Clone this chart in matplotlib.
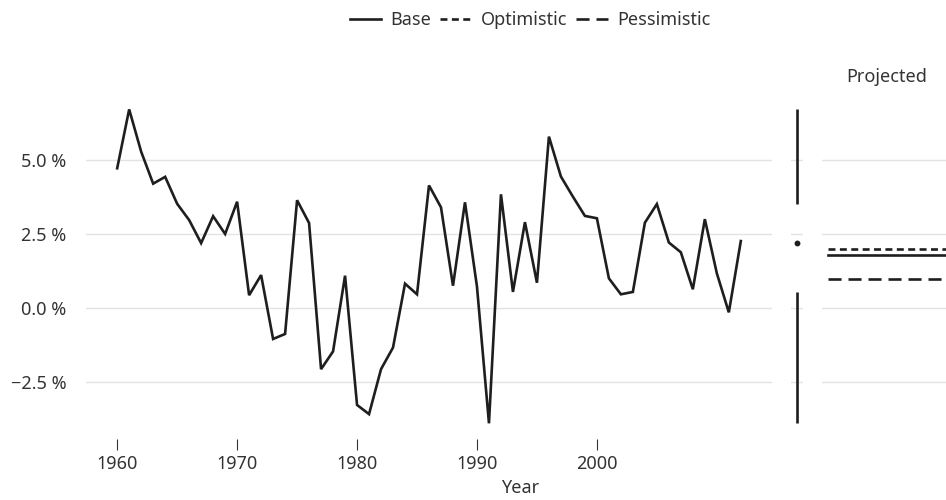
import numpy as np
import matplotlib
matplotlib.use("Agg")
import matplotlib.pyplot as plt
from matplotlib.ticker import FuncFormatter

# Annual growth rate, %
years = list(range(1960, 2013))
growth = [4.73, 6.72, 5.29, 4.21, 4.44, 3.53, 2.98, 2.20, 3.11, 2.51,
          3.60, 0.44, 1.12, -1.04, -0.87, 3.65, 2.88, -2.06, -1.46, 1.10,
          -3.27, -3.58, -2.06, -1.33, 0.83, 0.47, 4.15, 3.41, 0.76, 3.58,
          0.73, -3.89, 3.85, 0.55, 2.91, 0.86, 5.80, 4.45, 3.77, 3.12,
          3.04, 1.01, 0.47, 0.55, 2.89, 3.52, 2.22, 1.89, 0.64, 3.01,
          1.18, -0.14, 2.27]

# Projection scenarios
proj_years = [2013, 2020]
scenario_names = ["Base", "Optimistic", "Pessimistic"]
scenario_values = [1.8, 2.0, 1.0]

y_ticks = [-2.5, 0.0, 2.5, 5.0]
x_ticks = [1960, 1970, 1980, 1990, 2000]

INK = "#1e1e1e"
TEXT = "#333333"
GRID = "#e3e3e3"

plt.rcParams["font.family"] = ["Noto Sans", "DejaVu Sans"]
plt.rcParams["font.size"] = 13
plt.rcParams["text.color"] = TEXT
plt.rcParams["lines.scale_dashes"] = False

fig = plt.figure(figsize=(9.46, 5.0), dpi=100)
W, H = 946.0, 500.0
top_px, bot_px = 93.7, 439.0
b = 1 - bot_px / H
h = (bot_px - top_px) / H

ax = fig.add_axes([86 / W, b, (772 - 86) / W, h])
axb = fig.add_axes([791 / W, b, 12 / W, h], sharey=ax)
axp = fig.add_axes([822 / W, b, 130 / W, h], sharey=ax)

# Historical series
ax.plot(years, growth, color=INK, lw=1.9, solid_joinstyle="miter")

# Distribution summary (minimal box plot)
g = np.asarray(growth)
q1, med, q3 = np.percentile(g, [25, 50, 75])
axb.vlines(0, g.min(), q1, color=INK, lw=1.9)
axb.vlines(0, q3, g.max(), color=INK, lw=1.9)
axb.plot([0], [med], "o", color=INK, ms=3.2)
axb.set_xlim(-1, 1)

# Scenario lines
styles = {"Base": "-", "Optimistic": (0, (5.0, 3.2)), "Pessimistic": (0, (9.4, 5.0))}
handles = []
for name, val in zip(scenario_names, scenario_values):
    ln, = axp.plot(proj_years, [val, val], color=INK, lw=1.9,
                   linestyle=styles[name], label=name)
    handles.append(ln)
axp.set_title("Projected", fontsize=13, color=TEXT, pad=8.5)

fmt = FuncFormatter(lambda v, p: f"{v:.1f} %".replace("-", "\u2212"))
for a in (ax, axb, axp):
    for s in a.spines.values():
        s.set_visible(False)
    a.set_yticks(y_ticks)
    a.grid(axis="y", color=GRID, lw=1.0)
    a.grid(axis="x", visible=False)
    a.set_axisbelow(True)
    a.tick_params(axis="y", length=0)

ax.yaxis.set_major_formatter(fmt)
ax.tick_params(axis="y", pad=14, labelcolor=TEXT)
ax.set_xticks(x_ticks)
ax.tick_params(axis="x", length=7.7, width=0.8, color=TEXT, pad=3.8, labelcolor=TEXT)

for a in (axb, axp):
    a.tick_params(axis="y", labelleft=False)
    a.set_xticks([])

fig.text(520 / W, 1 - 493 / H, "Year", ha="center", va="baseline", color=TEXT)

fig.legend(handles=handles, loc="center", bbox_to_anchor=(530 / W, 1 - 20 / H),
           ncol=3, frameon=False, handlelength=1.75, handletextpad=0.5,
           columnspacing=0.5, borderaxespad=0, borderpad=0)

fig.savefig("out.png", dpi=100)
